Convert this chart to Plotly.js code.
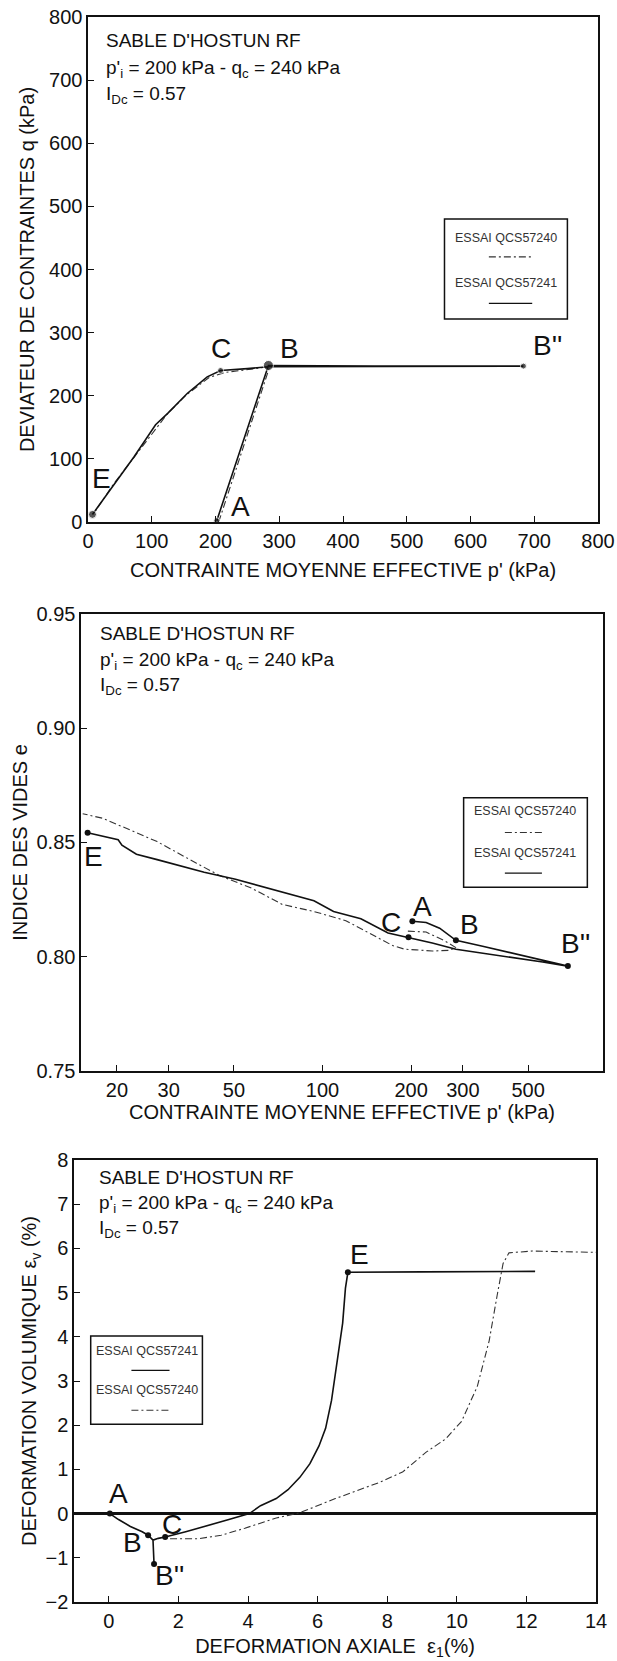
<!DOCTYPE html>
<html>
<head>
<meta charset="utf-8">
<script src="https://cdn.plot.ly/plotly-3.0.1.min.js"></script>
<style>html,body{margin:0;padding:0;background:#fff;}#chart{width:617px;height:1661px;}</style>
</head>
<body>
<div id="chart"></div>
<script>
// ---------- Chart 1 : q vs p' ----------
const qpSolidP = [202, 283, 450, 683, 450, 283, 250, 208, 187, 156, 125, 106, 72, 38, 7];
const qpSolidQ = [2, 248, 247, 247, 246, 246, 243, 240, 230, 204, 172, 154, 103, 55, 12];
const qpDashP  = [205, 285, 240, 215, 190, 155, 125, 75, 40, 10];
const qpDashQ  = [0, 246, 240, 237, 229, 202, 172, 107, 60, 15];
const qpKeyP   = [202, 283, 683, 208, 7];
const qpKeyQ   = [2, 248, 247, 240, 12];
const qpKeySize = [6, 10, 6, 6, 8];

// ---------- Chart 2 : e vs log p' ----------
const eSolidP = [202, 225, 250, 270, 284, 350, 450, 560, 682, 560, 450, 350, 284, 236, 196, 167, 135, 109, 93.5, 68.8, 50.6, 39.6, 32, 27.4, 23.3, 20.8, 20.2, 15.9];
const eSolidE = [0.8155, 0.8150, 0.8125, 0.8095, 0.8072, 0.8046, 0.8013, 0.7986, 0.7959, 0.7977, 0.7994, 0.8016, 0.8033, 0.8060, 0.8085, 0.8104, 0.8166, 0.8198, 0.8245, 0.8292, 0.8339, 0.8370, 0.8400, 0.8425, 0.8449, 0.8488, 0.8512, 0.8543];
const eDashP  = [195, 225, 260, 284, 270, 236, 208, 190, 173, 148, 120, 93.5, 73, 57.4, 44.8, 37.3, 27.4, 17.9, 15.3];
const eDashE  = [0.8112, 0.8108, 0.8070, 0.8040, 0.8028, 0.8025, 0.8030, 0.8033, 0.8049, 0.8096, 0.8158, 0.8198, 0.8229, 0.8300, 0.8355, 0.8409, 0.8504, 0.8606, 0.8626];
const eKeyP   = [202, 284, 682, 196, 15.9];
const eKeyE   = [0.8155, 0.8072, 0.7959, 0.8085, 0.8543];
const eTicks  = [20, 30, 50, 100, 200, 300, 500];

// ---------- Chart 3 : eps_v vs eps_1 ----------
const evSolidX = [0.03, 0.28, 0.62, 0.96, 1.13, 1.27, 1.30, 1.27, 1.42, 1.62, 2.21, 2.77, 3.45, 4.04, 4.36, 4.81, 5.15, 5.49, 5.78, 6.04, 6.23, 6.40, 6.57, 6.72, 6.80, 6.87, 9.0, 12.25];
const evSolidY = [0, -0.135, -0.29, -0.41, -0.49, -0.60, -1.14, -0.60, -0.56, -0.53, -0.41, -0.29, -0.135, 0, 0.18, 0.34, 0.54, 0.82, 1.13, 1.53, 1.93, 2.56, 3.52, 4.31, 5.10, 5.46, 5.47, 5.48];
const evDashX  = [1.76, 2.55, 3.23, 3.91, 4.81, 5.49, 6.51, 7.08, 7.76, 8.44, 9.12, 9.68, 10.14, 10.59, 10.93, 11.16, 11.33, 11.5, 12.17, 14];
const evDashY  = [-0.57, -0.57, -0.49, -0.33, -0.10, 0.02, 0.34, 0.50, 0.70, 0.94, 1.39, 1.69, 2.09, 2.88, 3.91, 4.94, 5.66, 5.90, 5.94, 5.91];
const evKeyX   = [0.03, 1.13, 1.30, 1.62, 6.87];
const evKeyY   = [0, -0.49, -1.14, -0.53, 5.46];

const keyLabels = ['A', 'B', "B''", 'C', 'E'];
const testNames = ['ESSAI QCS57240', 'ESSAI QCS57241'];
const infoLines = ["SABLE D'HOSTUN RF", "p'<sub>i</sub> = 200 kPa - q<sub>c</sub> = 240 kPa", "I<sub>Dc</sub> = 0.57"];

const INK = '#111111';
const solid = {color: INK, width: 1.6};
const dashed = {color: '#333333', width: 1.1, dash: '7px,3px,2px,3px'};

function lineTrace(x, y, xa, ya, line) {
  return {x: x, y: y, xaxis: xa, yaxis: ya, type: 'scatter', mode: 'lines', line: line, hoverinfo: 'skip'};
}
function markTrace(x, y, xa, ya, size) {
  return {x: x, y: y, xaxis: xa, yaxis: ya, type: 'scatter', mode: 'markers', marker: {color: INK, size: size}, hoverinfo: 'skip'};
}

const data = [
  lineTrace(qpDashP, qpDashQ, 'x', 'y', dashed),
  lineTrace(qpSolidP, qpSolidQ, 'x', 'y', solid),
  markTrace(qpKeyP, qpKeyQ, 'x', 'y', qpKeySize),
  lineTrace(eDashP, eDashE, 'x2', 'y2', dashed),
  lineTrace(eSolidP, eSolidE, 'x2', 'y2', solid),
  markTrace(eKeyP, eKeyE, 'x2', 'y2', 6),
  lineTrace(evDashX, evDashY, 'x3', 'y3', dashed),
  lineTrace(evSolidX, evSolidY, 'x3', 'y3', solid),
  markTrace(evKeyX, evKeyY, 'x3', 'y3', 6)
];

const FONT = 'Liberation Sans, Arial, sans-serif';
function axis(extra) {
  return Object.assign({
    showline: true, mirror: true, linecolor: INK, linewidth: 1.6,
    ticks: 'inside', ticklen: 6, tickwidth: 1, tickcolor: INK,
    showgrid: false, zeroline: false, fixedrange: true,
    tickfont: {family: FONT, size: 20, color: INK},
    automargin: false
  }, extra);
}
function ttl(text, standoff) {
  return {text: text, standoff: standoff, font: {family: FONT, size: 20, color: INK}};
}

const layout = {
  width: 617, height: 1661,
  margin: {l: 74, r: 14, t: 17, b: 59},
  paper_bgcolor: '#ffffff', plot_bgcolor: '#ffffff',
  showlegend: false,
  font: {family: FONT, color: INK},
  xaxis: axis({domain: [0.02647, 0.99055], anchor: 'y', range: [0, 800], tick0: 0, dtick: 100,
    title: ttl("CONTRAINTE MOYENNE EFFECTIVE p' (kPa)", 12)}),
  yaxis: axis({domain: [0.68139, 1], anchor: 'x', range: [0, 800], tick0: 0, dtick: 100,
    title: ttl('DEVIATEUR DE CONTRAINTES q (kPa)', 9)}),
  xaxis2: axis({domain: [0.01323, 1], anchor: 'y2', type: 'log', range: [Math.log10(15.1), Math.log10(898)],
    tickvals: eTicks, ticktext: eTicks.map(String), title: ttl("CONTRAINTE MOYENNE EFFECTIVE p' (kPa)", 5)}),
  yaxis2: axis({domain: [0.33502, 0.62334], anchor: 'x2', range: [0.75, 0.95], tick0: 0.75, dtick: 0.05, tickformat: '.2f',
    title: ttl('INDICE DES VIDES e', 3)}),
  xaxis3: axis({domain: [0, 0.98677], anchor: 'y3', range: [-1, 14], tick0: 0, dtick: 2,
    title: ttl('DEFORMATION AXIALE  ε<sub>1</sub>(%)', 8)}),
  yaxis3: axis({domain: [0, 0.27886], anchor: 'x3', range: [-2, 8], tick0: 0, dtick: 1,
    zeroline: true, zerolinecolor: INK, zerolinewidth: 2.4,
    title: ttl('DEFORMATION VOLUMIQUE ε<sub>v</sub> (%)', 3)}),
  shapes: [],
  annotations: []
};

// Info text blocks (3 lines) in each subplot
const infoPos = [
  {ax: '', x: 0.032, ys: [0.954, 0.898, 0.845]},
  {ax: '2', x: 0.032, ys: [0.957, 0.898, 0.843]},
  {ax: '3', x: 0.044, ys: [0.960, 0.901, 0.845]}
];
infoPos.forEach(p => {
  infoLines.forEach((t, i) => {
    layout.annotations.push({text: t, xref: 'x' + p.ax + ' domain', yref: 'y' + p.ax + ' domain',
      x: p.x, y: p.ys[i], xanchor: 'left', yanchor: 'middle', showarrow: false,
      font: {family: FONT, size: 19, color: INK}});
  });
});

// Legend boxes
const legends = [
  {ax: '', box: [0.699, 0.940, 0.402, 0.600], rows: [0.562, 0.474], lines: [0.525, 0.433], lx: [0.786, 0.871], order: [0, 1]},
  {ax: '2', box: [0.733, 0.970, 0.402, 0.598], rows: [0.569, 0.477], lines: [0.522, 0.433], lx: [0.812, 0.883], order: [0, 1]},
  {ax: '3', box: [0.032, 0.246, 0.402, 0.602], rows: [0.567, 0.480], lines: [0.524, 0.434], lx: [0.110, 0.183], order: [1, 0]}
];
legends.forEach(L => {
  const xr = 'x' + L.ax + ' domain', yr = 'y' + L.ax + ' domain';
  layout.shapes.push({type: 'rect', xref: xr, yref: yr, x0: L.box[0], x1: L.box[1], y0: L.box[2], y1: L.box[3],
    line: {color: INK, width: 1.5}, fillcolor: 'rgba(0,0,0,0)'});
  L.order.forEach((ti, i) => {
    layout.annotations.push({text: testNames[ti], xref: xr, yref: yr, x: (L.box[0] + L.box[1]) / 2, y: L.rows[i],
      xanchor: 'center', yanchor: 'middle', showarrow: false, font: {family: FONT, size: 12.5, color: '#333333'}});
    const st = ti === 0 ? {color: '#333333', width: 1.1, dash: '7px,3px,2px,3px'} : {color: INK, width: 1.4};
    layout.shapes.push({type: 'line', xref: xr, yref: yr, x0: L.lx[0], x1: L.lx[1], y0: L.lines[i], y1: L.lines[i], line: st});
  });
});

// Point letters (handwritten labels)
const lblTop = {x: [239, 316, 721, 208, 21], y: [24, 275, 280, 275, 69]};
const lblMid = {x: [219, 317, 725, 171, 16.7], y: [0.822, 0.8143, 0.8057, 0.815, 0.844]};
const lblBot = {x: [0.28, 0.68, 1.75, 1.81, 7.19], y: [0.46, -0.65, -1.40, -0.25, 5.86]};
function addLabels(lbl, ax, isLog) {
  keyLabels.forEach((t, i) => {
    layout.annotations.push({text: t, xref: 'x' + ax, yref: 'y' + ax,
      x: isLog ? Math.log10(lbl.x[i]) : lbl.x[i], y: lbl.y[i], showarrow: false,
      xanchor: 'center', yanchor: 'middle', font: {family: FONT, size: 28, color: INK}});
  });
}
addLabels(lblTop, '', false);
addLabels(lblMid, '2', true);
addLabels(lblBot, '3', false);

Plotly.newPlot('chart', data, layout, {staticPlot: true, displayModeBar: false});
</script>
</body>
</html>
